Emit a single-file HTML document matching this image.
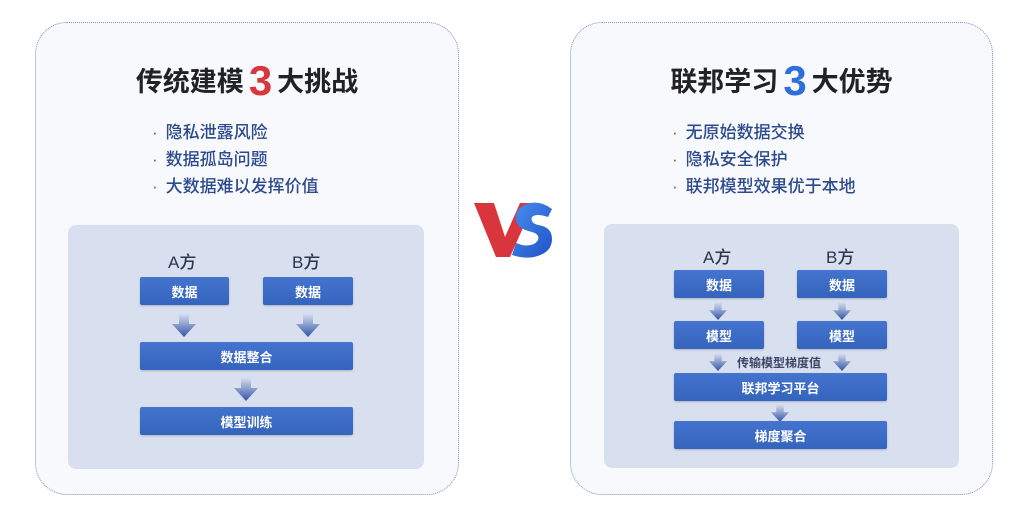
<!DOCTYPE html>
<html><head><meta charset="utf-8"><style>
*{margin:0;padding:0;box-sizing:border-box}
body{width:1035px;height:522px;background:#fff;position:relative;overflow:hidden;font-family:"Liberation Sans","Noto Sans CJK SC",sans-serif}
.card{position:absolute;border:1.5px dotted #7f93b4;border-radius:32px;background:#f7f9fd}
.t{position:absolute;font-size:27px;font-weight:bold;color:#222;white-space:nowrap;text-align:center}
.t b{font-size:42px;font-weight:900;vertical-align:-4px;margin:0 5px}
.bl{position:absolute;font-size:17px;color:#2c4a8c;line-height:27px;font-weight:500}
.bl span{color:#666;margin-right:8px}
.panel{position:absolute;background:#d8e0f0;border-radius:8px}
.box{position:absolute;background:linear-gradient(#4474cf,#3564bd);color:#fff;font-size:13px;font-weight:bold;display:flex;align-items:center;justify-content:center;border-radius:2px;box-shadow:0 1px 2px rgba(0,0,0,.2)}
.lab{position:absolute;font-size:17px;color:#2b3550;font-weight:500}
.ar{position:absolute;width:24px;height:24px}
</style></head><body>
<div class="card" style="left:35px;top:22px;width:424px;height:473px"></div>
<div class="card" style="left:570px;top:22px;width:423px;height:473px"></div>

<div class="t" style="left:35px;width:424px;top:57px">传统建模<b style="color:#d9363e">3</b>大挑战</div>
<div class="t" style="left:570px;width:423px;top:57px">联邦学习<b style="color:#2f6fdc">3</b>大优势</div>

<div class="bl" style="left:152px;top:119px"><span>·</span>隐私泄露风险<br><span>·</span>数据孤岛问题<br><span>·</span>大数据难以发挥价值</div>
<div class="bl" style="left:672px;top:119px"><span>·</span>无原始数据交换<br><span>·</span>隐私安全保护<br><span>·</span>联邦模型效果优于本地</div>

<svg style="position:absolute;left:472px;top:195px" width="85" height="65" viewBox="0 0 85 65">
<defs><linearGradient id="bg" x1="0" y1="0" x2="1" y2="1"><stop offset="0" stop-color="#4a8ef0"/><stop offset="1" stop-color="#1f52c4"/></linearGradient></defs>
<polygon points="2,8 22,8 33,42 48,8 62,8 38,62 24,62" fill="#d9353c"/>
<path d="M80,14 Q70,6 58,8 Q42,12 44,26 Q46,34 60,37 Q68,39 66,45 Q62,52 50,50 L44,48 L40,60 Q52,64 62,62 Q80,58 80,44 Q80,32 66,30 Q58,28 60,22 Q64,18 76,22 Z" fill="url(#bg)"/>
</svg>

<svg width="0" height="0" style="position:absolute"><defs>
<linearGradient id="ag" x1="0" y1="0" x2="0" y2="1"><stop offset="0" stop-color="#dbe3f1"/><stop offset="1" stop-color="#3354a8"/></linearGradient>
<symbol id="arr" viewBox="0 0 24 24"><polygon points="7,0 17,0 17,11 24,11 12,24 0,11 7,11" fill="url(#ag)"/></symbol>
</defs></svg>

<div class="panel" style="left:68px;top:225px;width:356px;height:244px"></div>
<div class="lab" style="left:168px;top:248px">A方</div>
<div class="lab" style="left:292px;top:248px">B方</div>
<div class="box" style="left:140px;top:277px;width:89px;height:28px">数据</div>
<div class="box" style="left:263px;top:277px;width:90px;height:28px">数据</div>
<svg class="ar" style="left:172px;top:313px"><use href="#arr"/></svg>
<svg class="ar" style="left:296px;top:313px"><use href="#arr"/></svg>
<div class="box" style="left:140px;top:342px;width:213px;height:28px">数据整合</div>
<svg class="ar" style="left:234px;top:377px"><use href="#arr"/></svg>
<div class="box" style="left:140px;top:407px;width:213px;height:28px">模型训练</div>

<div class="panel" style="left:604px;top:224px;width:355px;height:244px"></div>
<div class="lab" style="left:703px;top:243px">A方</div>
<div class="lab" style="left:826px;top:243px">B方</div>
<div class="box" style="left:674px;top:270px;width:90px;height:28px">数据</div>
<div class="box" style="left:797px;top:270px;width:90px;height:28px">数据</div>
<svg class="ar" style="left:709px;top:302px;width:18px;height:18px"><use href="#arr"/></svg>
<svg class="ar" style="left:833px;top:302px;width:18px;height:18px"><use href="#arr"/></svg>
<div class="box" style="left:674px;top:321px;width:90px;height:28px">模型</div>
<div class="box" style="left:797px;top:321px;width:90px;height:28px">模型</div>
<svg class="ar" style="left:709px;top:353px;width:18px;height:18px"><use href="#arr"/></svg>
<svg class="ar" style="left:833px;top:353px;width:18px;height:18px"><use href="#arr"/></svg>
<div style="position:absolute;left:737px;top:354px;font-size:12px;font-weight:bold;color:#3a4766">传输模型梯度值</div>
<div class="box" style="left:674px;top:373px;width:213px;height:28px">联邦学习平台</div>
<svg class="ar" style="left:771px;top:404px;width:18px;height:18px"><use href="#arr"/></svg>
<div class="box" style="left:674px;top:421px;width:213px;height:28px">梯度聚合</div>
</body></html>
